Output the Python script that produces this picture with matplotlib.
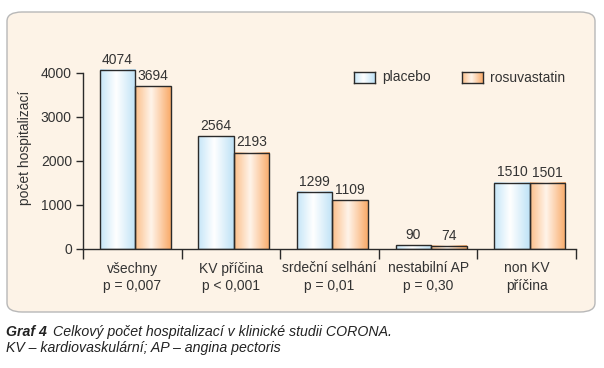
#! /usr/bin/env python3

import numpy as np
import matplotlib
matplotlib.use("Agg")
import matplotlib.pyplot as plt
from matplotlib.patches import FancyBboxPatch, Rectangle
from matplotlib.colors import LinearSegmentedColormap

categories = ["všechny\np = 0,007", "KV příčina\np < 0,001", "srdeční selhání\np = 0,01",
              "nestabilní AP\np = 0,30", "non KV\npříčina"]
placebo = [4074, 2564, 1299, 90, 1510]
rosuvastatin = [3694, 2193, 1109, 74, 1501]
series_names = ["placebo", "rosuvastatin"]
yticks = [0, 1000, 2000, 3000, 4000]

plt.rcParams["font.family"] = ["Liberation Sans", "DejaVu Sans"]
TXT = "#333333"
FS = 10

blue_cmap = LinearSegmentedColormap.from_list(
    "blue", [(0, "#c6e6f8"), (0.45, "#ffffff"), (1, "#bfe2f6")])
orange_cmap = LinearSegmentedColormap.from_list(
    "orange", [(0, "#fbbf8a"), (0.45, "#fff4ea"), (1, "#f9ab6a")])
grad = np.linspace(0, 1, 64).reshape(1, -1)


def gradient_bar(ax, x0, x1, y0, y1, cmap):
    ax.imshow(grad, cmap=cmap, extent=(x0, x1, y0, y1), aspect="auto",
              interpolation="bicubic", zorder=2)
    ax.add_patch(Rectangle((x0, y0), x1 - x0, y1 - y0, fill=False,
                           edgecolor="#2a2a2a", linewidth=1.0, zorder=3))


fig = plt.figure(figsize=(6.04, 3.68), dpi=100)
W, H = 604, 368

# panel background
panel = FancyBboxPatch((7 / W, 1 - 312 / H), 588 / W, 300 / H,
                       boxstyle="round,pad=0,rounding_size=0.025",
                       transform=fig.transFigure, facecolor="#fdf3e7",
                       edgecolor="#b8b8b8", linewidth=1.0, zorder=-10)
fig.patches.append(panel)

ax = fig.add_axes([83 / W, 1 - 249 / H, 493 / W, 202.4 / H])
ax.patch.set_alpha(0)

bw = 0.36
off = 0.03
x = np.arange(len(categories))
for i in x:
    gradient_bar(ax, i - bw + off, i + off, 0, placebo[i], blue_cmap)
    gradient_bar(ax, i + off, i + bw + off, 0, rosuvastatin[i], orange_cmap)
    ax.text(i - bw / 2 + off, placebo[i] + 70, str(placebo[i]), ha="center",
            va="bottom", fontsize=FS, color=TXT)
    ax.text(i + bw / 2 + off, rosuvastatin[i] + 70, str(rosuvastatin[i]), ha="center",
            va="bottom", fontsize=FS, color=TXT)

ax.set_xlim(-0.5, 4.5)
ax.set_ylim(0, 4600)

for s in ("top", "right"):
    ax.spines[s].set_visible(False)
ax.spines["left"].set_bounds(0, 4000)
for s in ("left", "bottom"):
    ax.spines[s].set_color("#2a2a2a")
    ax.spines[s].set_linewidth(1.0)

ax.set_yticks(yticks)
ax.set_yticklabels([str(v) for v in yticks], fontsize=FS, color=TXT)
ax.tick_params(axis="y", length=5, width=1.0, color="#2a2a2a", pad=3)

ax.set_xticks(x)
ax.set_xticklabels(categories, fontsize=FS, color=TXT, linespacing=1.3)
ax.tick_params(axis="x", which="major", length=0, pad=9)
ax.set_xticks(np.arange(-0.5, 5, 1), minor=True)
ax.tick_params(axis="x", which="minor", length=7, width=1.0, color="#2a2a2a", direction="out")

ax.set_ylabel("počet hospitalizací", fontsize=FS, color=TXT, labelpad=6)

# legend swatches
for name, cmap, lx in zip(series_names, [blue_cmap, orange_cmap], [354, 462]):
    sax = fig.add_axes([lx / W, 1 - 83 / H, 21 / W, 11 / H])
    sax.imshow(grad, cmap=cmap, aspect="auto", interpolation="bicubic")
    sax.set_xticks([])
    sax.set_yticks([])
    for sp in sax.spines.values():
        sp.set_color("#2a2a2a")
        sp.set_linewidth(1.0)
    fig.text((lx + 28) / W, 1 - 77.5 / H, name, fontsize=FS, color=TXT, va="center")

# caption
fig.text(6 / W, 1 - 332 / H, "Graf 4", fontsize=10.2, fontweight="bold",
         fontstyle="italic", color="#222222", va="center")
fig.text(53 / W, 1 - 332 / H, "Celkový počet hospitalizací v klinické studii CORONA.",
         fontsize=10.2, fontstyle="italic", color="#222222", va="center")
fig.text(6 / W, 1 - 348 / H, "KV – kardiovaskulární; AP – angina pectoris",
         fontsize=10.2, fontstyle="italic", color="#222222", va="center")

fig.savefig("out.png", dpi=100)
